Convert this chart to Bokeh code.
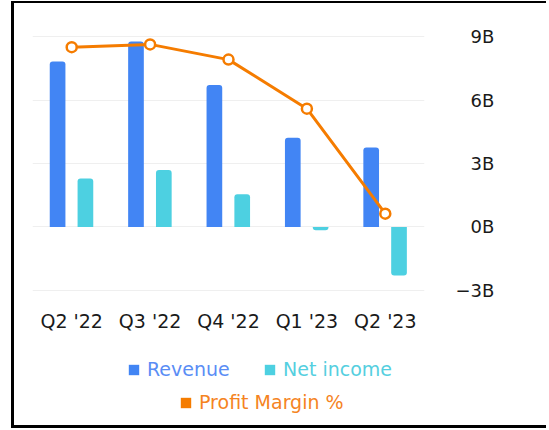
from bokeh.plotting import figure
from bokeh.layouts import column
from bokeh.models import (ColumnDataSource, FactorRange, Range1d, FixedTicker,
                          Legend, LegendItem)
from bokeh.transform import dodge
from bokeh.embed import file_html
from bokeh.resources import INLINE

# ---- data ----
quarters = ["Q2 '22", "Q3 '22", "Q4 '22", "Q1 '23", "Q2 '23"]
revenue = [7.82, 8.77, 6.71, 4.22, 3.76]          # billions
net_income = [2.29, 2.69, 1.55, -0.16, -2.29]     # billions
profit_margin = [85.0, 86.3, 79.1, 55.9, 6.3]     # percent (hidden secondary axis)
y_ticks = [-3, 0, 3, 6, 9]
y_tick_labels = ["\u22123B", "\u2007\u20090B", "\u2007\u20093B",
                 "\u2007\u20096B", "\u2007\u20099B"]
series_names = ["Revenue", "Net income", "Profit Margin %"]

BLUE = "#4285F4"
CYAN = "#4DD0E1"
ORANGE = "#F57C00"
FONT = "DejaVu Sans"
TXT = "#1A1A1A"

W = 532

p = figure(x_range=FactorRange(*quarters), y_range=Range1d(-3.05, 9.05),
           width=W, height=340, output_backend="svg", toolbar_location=None,
           y_axis_location="right",
           min_border_left=18, min_border_right=W - 18 - 392, min_border_top=32,
           min_border_bottom=52)
p.outline_line_color = None
p.xgrid.grid_line_color = None
p.ygrid.grid_line_color = "#EFEFEF"
p.ygrid.ticker = FixedTicker(ticks=y_ticks)

p.extra_y_ranges = {"margin": Range1d(-30.5, 90.5)}

src = ColumnDataSource(dict(q=quarters, revenue=revenue))
p.vbar(x=dodge("q", -0.18, range=p.x_range), top="revenue", bottom=0,
       width=0.2, source=src, fill_color=BLUE, line_color=None,
       border_radius=(3, 3, 0, 0))

pos = ColumnDataSource(dict(q=[q for q, v in zip(quarters, net_income) if v >= 0],
                            v=[v for v in net_income if v >= 0]))
neg = ColumnDataSource(dict(q=[q for q, v in zip(quarters, net_income) if v < 0],
                            v=[v for v in net_income if v < 0]))
p.vbar(x=dodge("q", 0.175, range=p.x_range), top="v", bottom=0,
       width=0.2, source=pos, fill_color=CYAN, line_color=None,
       border_radius=(3, 3, 0, 0))
p.vbar(x=dodge("q", 0.175, range=p.x_range), top=0, bottom="v",
       width=0.2, source=neg, fill_color=CYAN, line_color=None,
       border_radius=(0, 0, 3, 3))

msrc = ColumnDataSource(dict(q=quarters, m=profit_margin))
p.line(x="q", y="m", source=msrc, y_range_name="margin",
       line_color=ORANGE, line_width=3)
p.scatter(x="q", y="m", source=msrc, y_range_name="margin", size=10,
          fill_color="white", line_color=ORANGE, line_width=2.5)

# axes
yax = p.yaxis[0]
yax.ticker = FixedTicker(ticks=y_ticks)
yax.major_label_overrides = {t: l for t, l in zip(y_ticks, y_tick_labels)}
yax.axis_line_color = None
yax.major_tick_line_color = None
yax.minor_tick_line_color = None
yax.major_tick_out = 0
yax.major_label_standoff = 31
yax.major_label_text_font = FONT
yax.major_label_text_font_size = "18px"
yax.major_label_text_color = TXT

xax = p.xaxis[0]
xax.axis_line_color = None
xax.major_tick_line_color = None
xax.major_tick_out = 0
xax.major_label_standoff = 18
xax.major_label_text_font = FONT
xax.major_label_text_font_size = "19px"
xax.major_label_text_color = TXT

# ---- legend strip ----
lf = figure(width=W, height=82, x_range=Range1d(0, 1), y_range=Range1d(0, 1),
            x_axis_type=None, y_axis_type=None, output_backend="svg",
            toolbar_location=None, min_border=0)
lf.outline_line_color = None
lf.grid.visible = False

legend_colors = [BLUE, CYAN, ORANGE]
legend_text_colors = ["#5A8DF5", "#55CFE0", "#F5841F"]
legend_locs = [(95, 45), (231, 45), (147, 12)]

for name, c, tc, loc in zip(series_names, legend_colors, legend_text_colors, legend_locs):
    # zero-height bar: draws nothing, only provides the legend swatch colour
    r = lf.vbar(x=[0.5], top=[0.5], bottom=[0.5], width=0.1, fill_color=c, line_color=None)
    leg = Legend(items=[LegendItem(label=name, renderers=[r])], location=loc,
                 orientation="horizontal", padding=0, margin=0, spacing=0,
                 glyph_width=13, glyph_height=13, label_standoff=7,
                 label_height=22,
                 label_text_font=FONT, label_text_font_size="19px",
                 label_text_color=tc, border_line_color=None,
                 background_fill_alpha=0)
    lf.add_layout(leg, "center")

root = column(p, lf, spacing=0,
              styles={"border-left": "3px solid #000", "border-top": "2px solid #000",
                      "border-bottom": "3px solid #000", "border-right": "none",
                      "margin-left": "11px", "margin-top": "1px"})

open("out.html", "w").write(file_html(root, INLINE))
